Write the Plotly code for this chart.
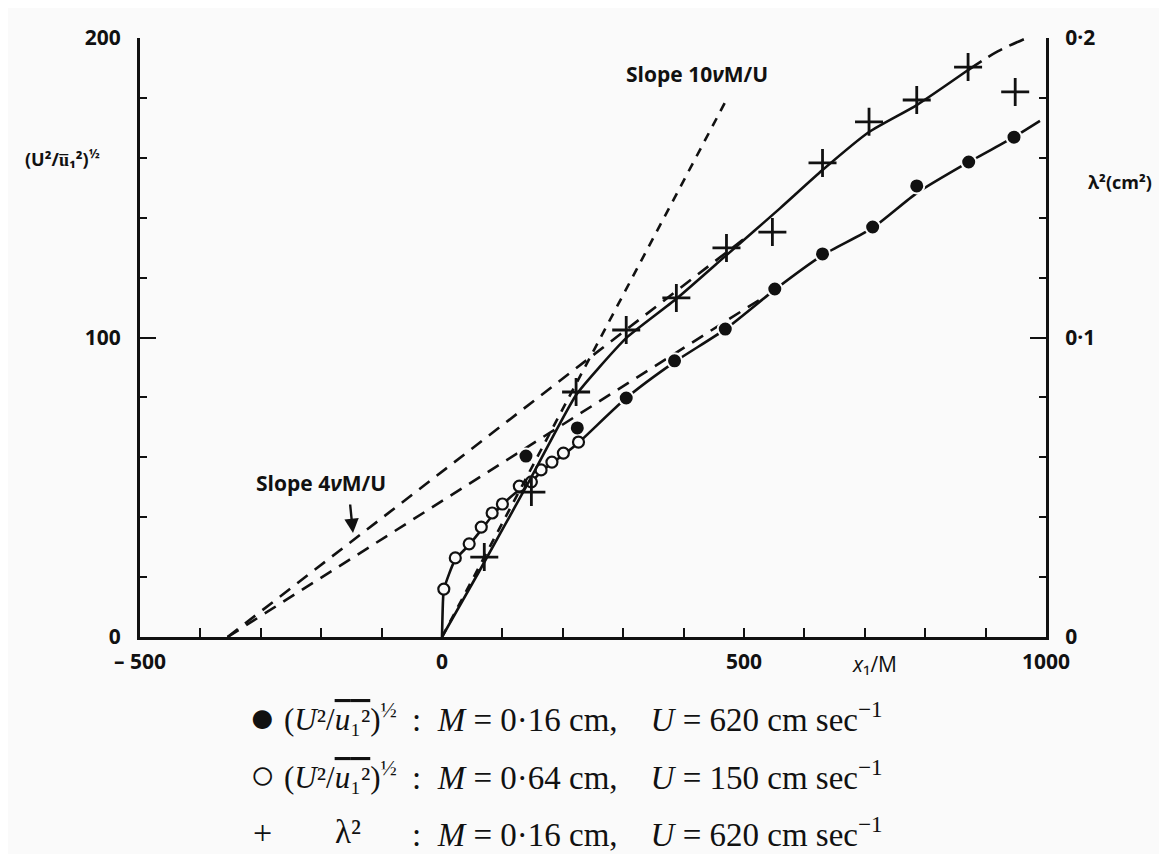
import plotly.graph_objects as go

# ---------------- data ----------------
# filled circles: (U^2/u1^2)^1/2, M=0.16 cm, U=620 cm/s
dot_x = [139, 224, 305, 385, 469, 551, 630, 713, 786, 872, 947]
dot_y = [60.4, 69.8, 79.8, 92.2, 102.8, 116.2, 127.9, 136.9, 150.6, 158.6, 166.9]

# open circles: (U^2/u1^2)^1/2, M=0.64 cm, U=150 cm/s
circ_x = [3, 22, 45, 65, 83, 100, 128, 148, 164, 182, 201, 226]
circ_y = [16.0, 26.4, 31.1, 36.7, 41.4, 44.4, 50.4, 51.8, 55.8, 58.4, 61.4, 65.1]

# crosses: lambda^2 (cm^2), M=0.16 cm, U=620 cm/s
lam_x = [70, 148, 222, 305, 388, 471, 547, 630, 707, 786, 871, 949]
lam_y = [0.0267, 0.0484, 0.0818, 0.1025, 0.1132, 0.1299, 0.1352, 0.1583, 0.1720, 0.1793, 0.1903, 0.1820]

# fitted curve through velocity data (left axis)
velfit_x = [0, 1.7, 3.3, 21.6, 44.8, 64.7, 82.9, 99.5, 127.7, 147.6, 164.2, 182.4, 200.7, 225.5,
            305, 384.7, 469.3, 550.6, 630.2, 713.1, 786, 872.3, 946.9, 990]
velfit_y = [0, 12.4, 16.0, 25.7, 30.7, 35.7, 40.4, 44.1, 49.1, 51.8, 55.1, 58.1, 60.8, 64.8,
            79.8, 91.8, 102.8, 115.9, 127.5, 136.6, 148.2, 158.6, 166.9, 172.3]

# fitted curve through lambda^2 data (right axis, cm^2)
lamfit_x = [0, 61, 148, 222, 261, 305, 388, 471, 560, 630, 707, 786, 871]
lamfit_y = [0, 0.0217, 0.0534, 0.0808, 0.0902, 0.0998, 0.1129, 0.1275, 0.1432, 0.1559, 0.1686, 0.1776, 0.1893]
lamtail_x = [871, 920, 968]
lamtail_y = [0.1893, 0.1955, 0.2]

# extrapolation lines
slope4_lam_x = [-355, 510]
slope4_lam_y = [0, 0.1345]
slope4_vel_x = [-355, 525]
slope4_vel_y = [0, 112.5]
slope10_x = [0, 470]
slope10_y = [0, 0.179]

x_tickvals = [-500, 0, 500, 1000]
x_ticktext = ["\u2013 500", "0", "500", "1000"]
y_tickvals = [0, 100, 200]
y2_tickvals = [0, 0.1, 0.2]
y2_ticktext = ["0", "0\u00b71", "0\u00b72"]

# ---------------- layout geometry ----------------
# page offset of the figure (browser body margin)
OFF = 8
W, H = 1167 - OFF, 854 - OFF
# plot area in page pixels
PL, PR, PT, PB = 140, 1046, 38, 637


def px(xp, yp):
    return (xp - PL) / (PR - PL), (PB - yp) / (PB - PT)


fig = go.Figure()
BLK = "#111111"
BG = "#fafafa"

fig.add_trace(go.Scatter(x=slope4_vel_x, y=slope4_vel_y, mode="lines",
                         line=dict(color=BLK, width=2.6, dash="13px,9px")))
fig.add_trace(go.Scatter(x=slope4_lam_x, y=slope4_lam_y, yaxis="y2", mode="lines",
                         line=dict(color=BLK, width=2.6, dash="13px,9px")))
fig.add_trace(go.Scatter(x=slope10_x, y=slope10_y, yaxis="y2", mode="lines",
                         line=dict(color=BLK, width=2.6, dash="9px,8px")))
fig.add_trace(go.Scatter(x=velfit_x, y=velfit_y, mode="lines",
                         line=dict(color=BLK, width=2.6, shape="spline", smoothing=0.6)))
fig.add_trace(go.Scatter(x=lamfit_x, y=lamfit_y, yaxis="y2", mode="lines",
                         line=dict(color=BLK, width=2.6, shape="spline", smoothing=0.6)))
fig.add_trace(go.Scatter(x=lamtail_x, y=lamtail_y, yaxis="y2", mode="lines",
                         line=dict(color=BLK, width=2.6, dash="16px,8px", shape="spline")))

fig.add_trace(go.Scatter(x=dot_x, y=dot_y, mode="markers",
                         marker=dict(symbol="circle", size=15, color=BLK,
                                     line=dict(color=BG, width=2))))
fig.add_trace(go.Scatter(x=circ_x, y=circ_y, mode="markers",
                         marker=dict(symbol="circle", size=11, color=BG,
                                     line=dict(color=BLK, width=2.2))))
fig.add_trace(go.Scatter(x=lam_x, y=lam_y, yaxis="y2", mode="markers",
                         marker=dict(symbol="cross-thin", size=20,
                                     line=dict(color=BLK, width=2.8))))

tickfont = dict(family="Open Sans", size=21, color=BLK, weight="bold")

ann = []


def add_text(xp, yp, text, size=20, family="Open Sans", weight="bold", xanchor="center",
             italic=False):
    xx, yy = px(xp, yp)
    ann.append(dict(x=xx, y=yy, xref="paper", yref="paper", text=text, showarrow=False,
                    xanchor=xanchor, yanchor="middle",
                    font=dict(family=family, size=size, color=BLK, weight=weight,
                              style="italic" if italic else "normal")))


add_text(697, 74, "Slope 10<i>\u03bd</i>M/U", size=21)
add_text(321, 483, "Slope 4<i>\u03bd</i>M/U", size=21)
add_text(62, 158, "(U\u00b2/u\u0305\u2081\u00b2)<sup>\u00bd</sup>", size=18)
add_text(1120, 182, "\u03bb\u00b2(cm\u00b2)", size=18)
add_text(874, 664, "<i>x</i>\u2081/M", size=21, weight="normal")

# arrow for slope 4 label
ax0, ay0 = px(353, 533)
ann.append(dict(x=ax0, y=ay0, xref="paper", yref="paper", text="", showarrow=True,
                ax=-3, ay=-30, arrowhead=2, arrowsize=1.2, arrowwidth=2.4, arrowcolor=BLK))

# legend block below the chart
serif = "Liberation Serif"
FS = 33
ov = "<span style='text-decoration:overline'><i>u</i>\u2081\u00b2</span>"
lab = "(<i>U</i>\u00b2/" + ov + ")<sup>\u00bd</sup>"
sp = "\u00a0"
tail_a = "<i>M</i> = 0\u00b716 cm," + sp * 4 + "<i>U</i> = 620 cm sec<sup>\u22121</sup>"
tail_b = "<i>M</i> = 0\u00b764 cm," + sp * 4 + "<i>U</i> = 150 cm sec<sup>\u22121</sup>"
rows = [
    (717, "\u25cf", 44, lab, ":" + sp * 2 + tail_a),
    (775, "\u25cb", 42, lab, ":" + sp * 2 + tail_b),
    (832, "+", 34, "\u03bb\u00b2", ":" + sp * 2 + tail_a),
]
for yrow, sym, ssz, label, rest in rows:
    add_text(262, yrow, sym, size=ssz, family=serif, weight="normal")
    if sym == "+":
        add_text(348, yrow, label, size=FS, family=serif, weight="normal")
    else:
        add_text(282, yrow, label, size=FS - 2, family=serif, weight="normal", xanchor="left")
    add_text(410, yrow, rest, size=FS, family=serif, weight="normal", xanchor="left")

fig.update_layout(
    width=W, height=H, autosize=False,
    margin=dict(l=PL - OFF, r=W - (PR - OFF), t=PT - OFF, b=H - (PB - OFF), pad=0),
    paper_bgcolor=BG, plot_bgcolor=BG,
    showlegend=False,
    xaxis=dict(range=[-500, 1000], showgrid=False, zeroline=False, showline=True,
               linecolor=BLK, linewidth=3, ticks="inside", ticklen=9, tickwidth=2.2,
               tickcolor=BLK, tickvals=x_tickvals, ticktext=x_ticktext, tickfont=tickfont,
               ticklabelstandoff=4,
               minor=dict(ticks="inside", dtick=100, ticklen=9, tickwidth=2.2, tickcolor=BLK)),
    yaxis=dict(range=[0, 200], showgrid=False, zeroline=False, showline=True,
               linecolor=BLK, linewidth=3, ticks="inside", ticklen=16, tickwidth=2.4,
               tickcolor=BLK, tickvals=y_tickvals, tickfont=tickfont, ticklabelstandoff=12,
               minor=dict(ticks="inside", dtick=20, ticklen=7, tickwidth=2.2, tickcolor=BLK)),
    yaxis2=dict(range=[0, 0.2], overlaying="y", side="right", showgrid=False, zeroline=False,
                showline=True, linecolor=BLK, linewidth=3, ticks="inside", ticklen=16,
                tickwidth=2.4, tickcolor=BLK, tickvals=y2_tickvals, ticktext=y2_ticktext,
                tickfont=tickfont, ticklabelstandoff=12,
                minor=dict(ticks="inside", dtick=0.02, ticklen=7, tickwidth=2.2, tickcolor=BLK)),
    annotations=ann,
)

fig.write_html("out.html")
